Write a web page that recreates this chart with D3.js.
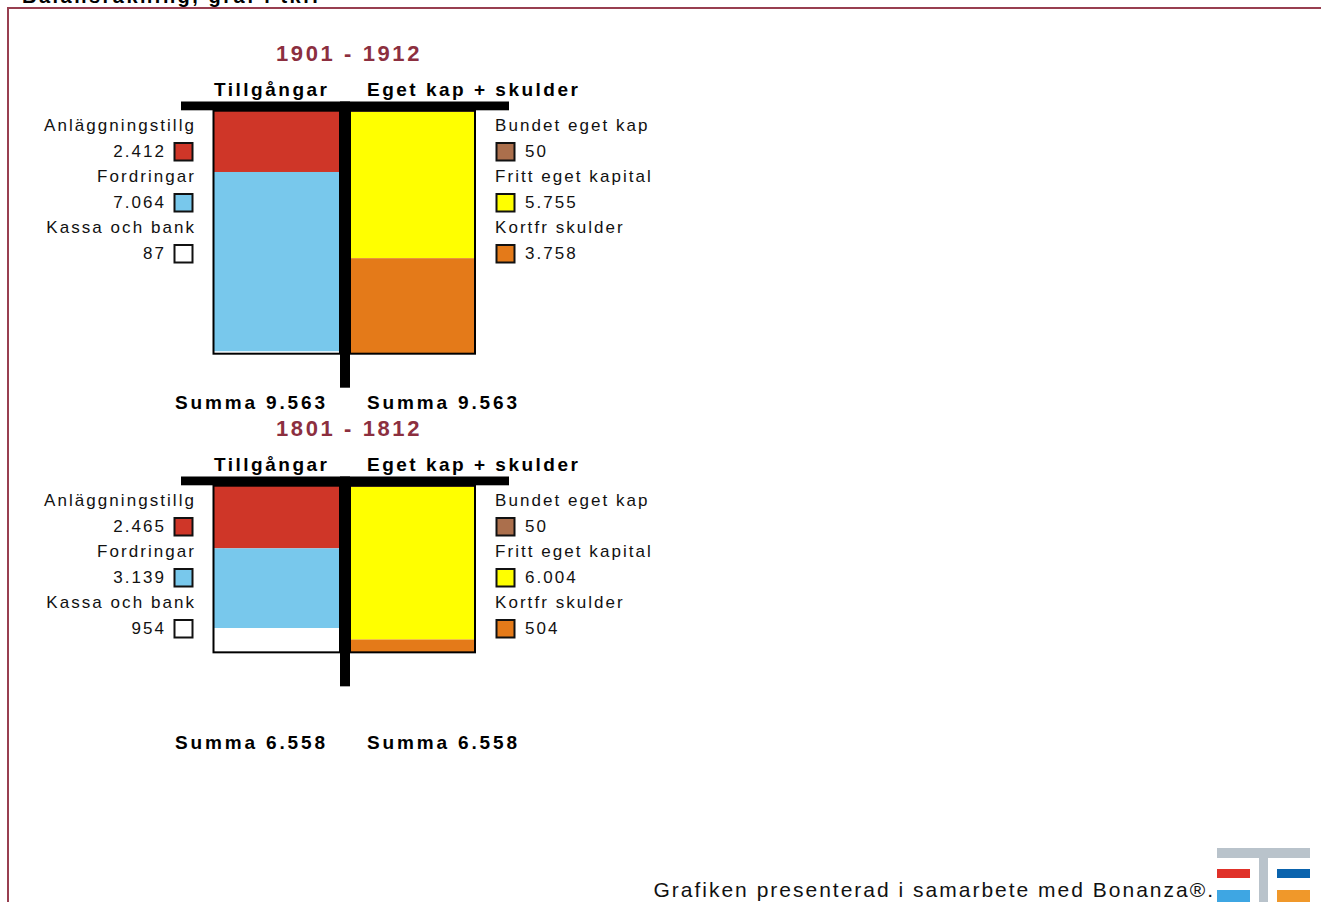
<!DOCTYPE html>
<html lang="sv"><head>
<meta charset="utf-8"/>
<title>Balansräkning</title>
<script src="https://d3js.org/d3.v7.min.js"></script>
<style>
  body { margin: 0; padding: 0; width: 1321px; height: 902px; overflow: hidden; background: #fff;
         font-family: 'Liberation Sans', Arial, sans-serif; }
  svg text { font-family: 'Liberation Sans', Arial, sans-serif; }
  .lg { font-size: 17px; letter-spacing: 2.05px; fill: #111; }
  .hd { font-size: 19px; font-weight: bold; letter-spacing: 2.5px; fill: #000; }
  .sum { font-size: 19px; font-weight: bold; letter-spacing: 2.85px; fill: #000; }
  .ttl { font-size: 22px; font-weight: bold; letter-spacing: 2.6px; fill: #8c2f3f; }
</style>
</head>
<body>
<div id="chart"></div>
<script>
// periods, top to bottom
const periods = ["1901 - 1912", "1801 - 1812"];

// assets (Tillgångar)
const assetNames = ["Anläggningstillg", "Fordringar", "Kassa och bank"];
const assetColors = ["#cf3628", "#78c8ec", "#ffffff"];
const assets1901 = [2412, 7064, 87];
const assets1801 = [2465, 3139, 954];

// equity + liabilities (Eget kap + skulder)
const claimNames = ["Bundet eget kap", "Fritt eget kapital", "Kortfr skulder"];
const claimColors = ["#ab6f4c", "#ffff00", "#e47a19"];
const claims1901 = [50, 5755, 3758];
const claims1801 = [50, 6004, 504];

const assetSeries = [assets1901, assets1801];
const claimSeries = [claims1901, claims1801];

// Swedish style thousands: 9.563
const fmt = v => d3.format(",")(v).replace(/,/g, ".");

const W = 1321, H = 902;
const svg = d3.select("#chart").append("svg").attr("width", W).attr("height", H);

// frame
svg.append("path")
  .attr("d", `M8,${H} L8,8 L${W},8`)
  .attr("fill", "none").attr("stroke", "#983f50").attr("stroke-width", 2);

svg.append("text").attr("x", 22).attr("y", 3)
  .attr("font-size", 20).attr("font-weight", "bold").attr("letter-spacing", "2.5px")
  .text("Balansräkning, graf i tkr.");

// value -> pixel height
const h = d3.scaleLinear().domain([0, 10000]).range([0, 254.1]);

// layout
const panelOffset = [0, 375];
const summaY = [409, 749];
const boxTop = 110.7;
const leftX = [213.5, 340], rightX = [350, 475];
const rowStep = 25.5;

periods.forEach((period, p) => {
  const g = svg.append("g").attr("transform", `translate(0,${panelOffset[p]})`);
  const A = assetSeries[p], C = claimSeries[p];
  const total = d3.sum(A);
  const bottom = boxTop + h(total);

  g.append("text").attr("class", "ttl").attr("x", 349).attr("y", 61)
    .attr("text-anchor", "middle").text(period);
  g.append("text").attr("class", "hd").attr("x", 214).attr("y", 96).text("Tillgångar");
  g.append("text").attr("class", "hd").attr("x", 367).attr("y", 96).text("Eget kap + skulder");

  // stacked blocks
  const stack = (vals, colors, x0, x1) => {
    let acc = 0;
    const segs = vals.map((v, i) => { const s = {y0: acc, v, c: colors[i]}; acc += v; return s; });
    g.selectAll(null).data(segs).enter().append("rect")
      .attr("x", x0).attr("width", x1 - x0)
      .attr("y", d => boxTop + h(d.y0)).attr("height", d => h(d.v))
      .attr("fill", d => d.c);
    g.append("rect").attr("x", x0).attr("y", boxTop).attr("width", x1 - x0).attr("height", h(acc))
      .attr("fill", "none").attr("stroke", "#000").attr("stroke-width", 2);
  };
  stack(A, assetColors, leftX[0], leftX[1]);
  stack(C, claimColors, rightX[0], rightX[1]);

  // T-account bars
  g.append("rect").attr("x", 181).attr("y", 101.5).attr("width", 328).attr("height", 8.8).attr("fill", "#000");
  g.append("rect").attr("x", 340).attr("y", 101.5).attr("width", 10).attr("height", bottom + 34 - 101.5).attr("fill", "#000");

  // left legend
  assetNames.forEach((name, i) => {
    const yl = 131 + i * 2 * rowStep, yv = yl + rowStep;
    g.append("text").attr("class", "lg").attr("x", 196).attr("y", yl).attr("text-anchor", "end").text(name);
    g.append("text").attr("class", "lg").attr("x", 166).attr("y", yv).attr("text-anchor", "end").text(fmt(A[i]));
    g.append("rect").attr("x", 174.5).attr("y", yv - 13.5).attr("width", 18).attr("height", 17.5)
      .attr("fill", assetColors[i]).attr("stroke", "#111").attr("stroke-width", 2);
  });
  // right legend
  claimNames.forEach((name, i) => {
    const yl = 131 + i * 2 * rowStep, yv = yl + rowStep;
    g.append("text").attr("class", "lg").attr("x", 495).attr("y", yl).text(name);
    g.append("text").attr("class", "lg").attr("x", 525).attr("y", yv).text(fmt(C[i]));
    g.append("rect").attr("x", 496.5).attr("y", yv - 13.5).attr("width", 18).attr("height", 17.5)
      .attr("fill", claimColors[i]).attr("stroke", "#111").attr("stroke-width", 2);
  });

  svg.append("text").attr("class", "sum").attr("x", 175).attr("y", summaY[p]).text("Summa " + fmt(total));
  svg.append("text").attr("class", "sum").attr("x", 367).attr("y", summaY[p]).text("Summa " + fmt(d3.sum(C)));
});

// footer + logo
svg.append("text").attr("x", 1215).attr("y", 897).attr("text-anchor", "end")
  .attr("font-size", 21).attr("letter-spacing", "2px").attr("fill", "#111")
  .text("Grafiken presenterad i samarbete med Bonanza®.");
const logo = svg.append("g");
logo.append("rect").attr("x", 1217).attr("y", 848).attr("width", 93).attr("height", 10).attr("fill", "#b9c3cb");
logo.append("rect").attr("x", 1259).attr("y", 848).attr("width", 9).attr("height", 54).attr("fill", "#b9c3cb");
logo.append("rect").attr("x", 1217).attr("y", 869).attr("width", 33).attr("height", 9).attr("fill", "#e03129");
logo.append("rect").attr("x", 1277).attr("y", 869).attr("width", 33).attr("height", 9).attr("fill", "#0a63ad");
logo.append("rect").attr("x", 1217).attr("y", 890).attr("width", 33).attr("height", 12).attr("fill", "#3ea6e3");
logo.append("rect").attr("x", 1277).attr("y", 890).attr("width", 33).attr("height", 12).attr("fill", "#f0982a");
</script>
</body></html>
